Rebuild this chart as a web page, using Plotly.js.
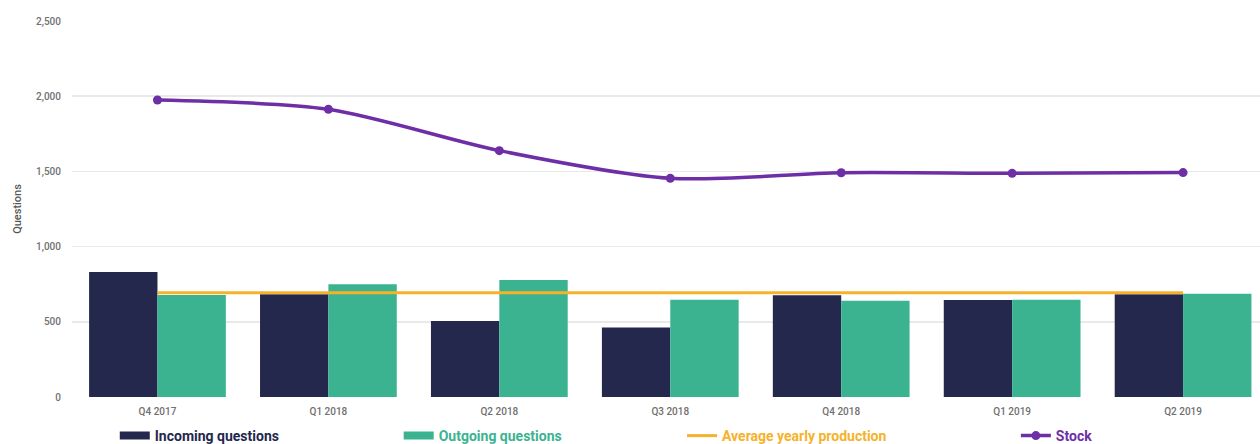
<!DOCTYPE html>
<html>
<head>
<meta charset="utf-8">
<script src="https://cdn.plot.ly/plotly-3.0.1.min.js"></script>
<style>html,body{margin:0;padding:0;background:#fff;}#chart{width:1260px;height:444px;}</style>
</head>
<body>
<div id="chart"></div>
<script>
const quarters = ['Q4 2017','Q1 2018','Q2 2018','Q3 2018','Q4 2018','Q1 2019','Q2 2019'];
const incoming = [831, 683, 505, 462, 676, 645, 683];
const outgoing = [678, 749, 778, 647, 640, 647, 687];
const averageProduction = [693, 693, 693, 693, 693, 693, 693];
const stock = [1975, 1913, 1638, 1454, 1491, 1487, 1492];
const yTicks = [0, 500, 1000, 1500, 2000, 2500];
const yTickText = ['0', '500', '1,000', '1,500', '2,000', '2,500'];

const NAVY = '#23284c', GREEN = '#3bb391', ORANGE = '#f6b22b', PURPLE = '#6e2fa6';

const traces = [
  {type:'bar', x:quarters, y:incoming, name:'Incoming questions', marker:{color:NAVY}, showlegend:false, hoverinfo:'skip'},
  {type:'bar', x:quarters, y:outgoing, name:'Outgoing questions', marker:{color:GREEN}, showlegend:false, hoverinfo:'skip'},
  {type:'scatter', mode:'lines', x:quarters, y:averageProduction, name:'Average yearly production',
   line:{color:ORANGE, width:3}, legend:'legend3'},
  {type:'scatter', mode:'lines+markers', x:quarters, y:stock, name:'Stock',
   line:{color:PURPLE, width:3.5, shape:'spline', smoothing:0.8}, marker:{color:PURPLE, size:9}, legend:'legend4'},
  // legend swatches for the bar series
  {type:'scatter', mode:'lines', x:[null], y:[null], name:'Incoming questions', line:{color:NAVY, width:8}, legend:'legend'},
  {type:'scatter', mode:'lines', x:[null], y:[null], name:'Outgoing questions', line:{color:GREEN, width:8}, legend:'legend2'}
];

function leg(x, color){
  return {orientation:'h', x:x, xanchor:'left', yref:'container', y:0.018, yanchor:'middle', bgcolor:'rgba(0,0,0,0)',
    font:{family:'Roboto, sans-serif', size:14, color:color, weight:'bold'}, borderwidth:0};
}

const layout = {
  width:1260, height:444,
  margin:{l:72, r:0, t:21, b:47},
  paper_bgcolor:'#fff', plot_bgcolor:'#fff',
  barmode:'group', bargap:0.2, bargroupgap:0,
  font:{family:'Roboto, sans-serif', color:'#666'},
  xaxis:{type:'category', range:[-0.5, 6.45], showgrid:false, zeroline:false, showline:false,
    ticks:'', tickfont:{size:10, color:'#707070', weight:500}, ticklabelstandoff:7},
  yaxis:{range:[0,2500], tickvals:yTicks, ticktext:yTickText, showgrid:true, gridcolor:'#e9e9e9', gridwidth:1.5,
    zeroline:false, showline:false, ticks:'', tickfont:{size:10, color:'#707070', weight:500}, ticklabelstandoff:10,
    title:{text:'Questions', font:{size:11, color:'#555', weight:500}, standoff:12}},
  legend:leg(0.036, NAVY),
  legend2:leg(0.275, GREEN),
  legend3:leg(0.5135, ORANGE),
  legend4:leg(0.7945, PURPLE),
  showlegend:true
};

Plotly.newPlot('chart', traces, layout, {displayModeBar:false, staticPlot:true});
</script>
</body>
</html>
